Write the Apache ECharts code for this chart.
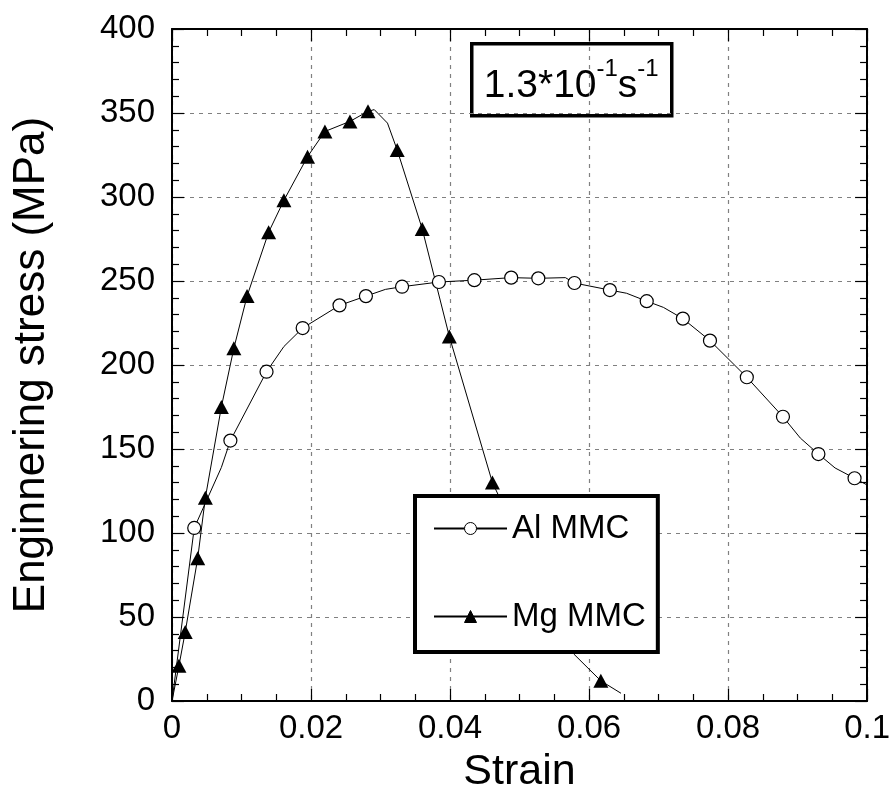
<!DOCTYPE html>
<html>
<head>
<meta charset="utf-8">
<script src="https://cdn.jsdelivr.net/npm/echarts@6/dist/echarts.min.js"></script>
<style>html,body{margin:0;padding:0;background:#fff}#c{width:893px;height:810px}</style>
</head>
<body>
<div id="c"></div>
<script>
// Al MMC: strain, stress, marker flag (1 = marker drawn)
const alStrain = [0, 0.0032, 0.0071, 0.0084, 0.0136, 0.0161, 0.0188, 0.0241, 0.0279, 0.0307, 0.0331, 0.0384, 0.0435, 0.0488, 0.0527, 0.0566, 0.0579, 0.0630, 0.0654, 0.0683, 0.0707, 0.0735, 0.0774, 0.0827, 0.0879, 0.0904, 0.0930, 0.0954, 0.0982, 0.1000];
const alStress = [0, 103, 139, 155, 196, 211, 222, 235.5, 241, 245, 246.6, 249.4, 250.5, 252, 251.6, 252, 248.8, 244.6, 242.7, 238, 234.3, 227.6, 214.5, 192.7, 169.2, 156.5, 147, 138.7, 132.6, 128.6];
const alMarked = [0, 1, 0, 1, 1, 0, 1, 1, 1, 0, 1, 1, 1, 1, 1, 0, 1, 1, 0, 1, 0, 1, 1, 1, 1, 0, 1, 0, 1, 0];

// Mg MMC
const mgStrain = [0, 0.0010, 0.0019, 0.0037, 0.0048, 0.0071, 0.0089, 0.0108, 0.0139, 0.0161, 0.0195, 0.0220, 0.0256, 0.0282, 0.0291, 0.0310, 0.0324, 0.0360, 0.0399, 0.0461, 0.0578, 0.0617, 0.0646];
const mgStress = [0, 21, 41, 85, 121, 175, 210, 241, 279, 298, 324, 339, 345, 351, 352, 344, 328, 281, 217, 130, 28, 12, 4.6];
const mgMarked = [0, 1, 1, 1, 1, 1, 1, 1, 1, 1, 1, 1, 1, 1, 0, 0, 1, 1, 1, 1, 0, 1, 0];

const seriesNames = ['Al MMC', 'Mg MMC'];
const xTitle = 'Strain';
const yTitle = 'Enginnering stress (MPa)';
const xMin = 0, xMax = 0.1, xStep = 0.02;
const yMin = 0, yMax = 400, yStep = 50;

const NARROW = "'Liberation Sans Narrow', 'Arial Narrow', 'Liberation Sans', Arial, sans-serif";
const NORMAL = "'Liberation Sans', Arial, sans-serif";

function build(xs, ys, marks) {
  return xs.map((x, i) => marks[i] ? { value: [x, ys[i]] } : { value: [x, ys[i]], symbol: 'none' });
}

const chart = echarts.init(document.getElementById('c'));
const axisLineStyle = { color: '#000', width: 2 };
const baseX = {
  type: 'value', min: xMin, max: xMax, interval: xStep,
  axisLine: { show: true, onZero: false, lineStyle: axisLineStyle },
  axisTick: { show: true, inside: true, length: 12, lineStyle: { color: '#000', width: 1.2 } },
  minorTick: { show: true, splitNumber: 4, length: 7, lineStyle: { color: '#000', width: 1.2 } },
};
const baseY = {
  type: 'value', min: yMin, max: yMax, interval: yStep,
  axisLine: { show: true, onZero: false, lineStyle: axisLineStyle },
  axisTick: { show: true, inside: true, length: 12, lineStyle: { color: '#000', width: 1.2 } },
  minorTick: { show: true, splitNumber: 5, length: 7, lineStyle: { color: '#000', width: 1.2 } },
};

chart.setOption({
  animation: false,
  backgroundColor: '#fff',
  grid: { left: 172, right: 21, top: 29, bottom: 109 },
  xAxis: [
    Object.assign({}, baseX, {
      position: 'bottom',
      name: xTitle, nameLocation: 'middle', nameGap: 50,
      nameTextStyle: { fontFamily: NARROW, fontSize: 43, color: '#000' },
      axisLabel: { show: true, margin: 11, fontFamily: NARROW, fontSize: 33, color: '#000',
        formatter: v => v === 0 ? '0' : String(+v.toFixed(2)) },
      splitLine: { show: true, lineStyle: { color: '#808080', type: [4, 5], width: 1.2 } }
    }),
    Object.assign({}, baseX, {
      position: 'top', axisLabel: { show: false }, splitLine: { show: false }
    })
  ],
  yAxis: [
    Object.assign({}, baseY, {
      position: 'left',
      name: yTitle, nameLocation: 'middle', nameGap: 118,
      nameTextStyle: { fontFamily: NARROW, fontSize: 44, color: '#000' },
      axisLabel: { show: true, margin: 17, fontFamily: NARROW, fontSize: 33, color: '#000' },
      splitLine: { show: true, lineStyle: { color: '#808080', type: [4, 5], width: 1.2 } }
    }),
    Object.assign({}, baseY, {
      position: 'right', axisLabel: { show: false }, splitLine: { show: false }
    })
  ],
  legend: {
    data: seriesNames,
    orient: 'vertical',
    left: 415, top: 496,
    padding: [16, 12, 19, 18],
    itemGap: 55,
    itemWidth: 73, itemHeight: 15,
    itemStyle: { borderWidth: 1 },
    backgroundColor: '#fff',
    borderColor: '#000', borderWidth: 4,
    textStyle: { fontFamily: NARROW, fontSize: 33, color: '#000' },
    selectedMode: false,
    z: 10
  },
  graphic: [{
    type: 'group', left: 470, top: 42, z: 10,
    children: [
      { type: 'rect', shape: { x: 0, y: 0, width: 200, height: 72 },
        style: { fill: '#fff', stroke: '#000', lineWidth: 3.5 } },
      { type: 'text', x: 12, y: 14,
        style: {
          text: '{a|1.3*10}{b|-1}{a|s}{b|-1}',
          rich: {
            a: { fontFamily: NORMAL, fontSize: 39, color: '#000', lineHeight: 48, verticalAlign: 'bottom' },
            b: { fontFamily: NORMAL, fontSize: 24, color: '#000', lineHeight: 48, verticalAlign: 'top' }
          }
        } }
    ]
  }],
  series: [
    {
      name: seriesNames[0], type: 'line',
      xAxisIndex: 0, yAxisIndex: 0,
      data: build(alStrain, alStress, alMarked),
      symbol: 'circle', symbolSize: 13,
      showSymbol: true,
      lineStyle: { color: '#000', width: 1 },
      itemStyle: { color: '#fff', borderColor: '#000', borderWidth: 1.2 },
      z: 3
    },
    {
      name: seriesNames[1], type: 'line',
      xAxisIndex: 0, yAxisIndex: 0,
      data: build(mgStrain, mgStress, mgMarked),
      symbol: 'triangle', symbolSize: [15, 14],
      showSymbol: true,
      lineStyle: { color: '#000', width: 1 },
      itemStyle: { color: '#000', borderColor: '#000', borderWidth: 0 },
      z: 3
    }
  ]
});
</script>
</body>
</html>
